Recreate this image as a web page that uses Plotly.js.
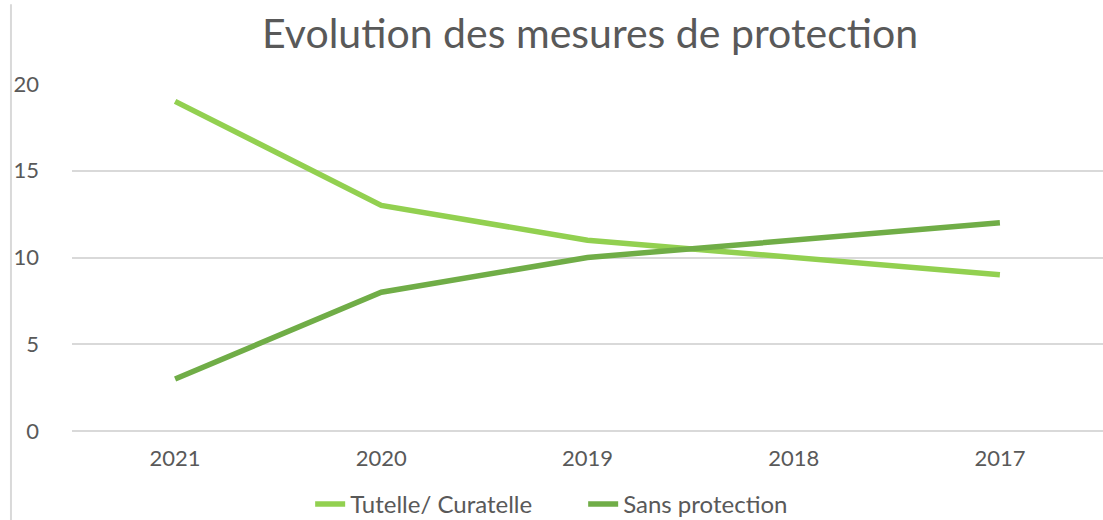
<!DOCTYPE html>
<html><head><meta charset="utf-8">
<script src="https://cdn.plot.ly/plotly-3.0.1.min.js"></script>
<style>html,body{margin:0;padding:0;background:#fff}</style>
</head><body>
<div id="chart" style="width:1103px;height:520px"></div>
<script>
const years = ["2021", "2020", "2019", "2018", "2017"];
const tutelle = [19, 13, 11, 10, 9];
const sansProtection = [3, 8, 10, 11, 12];
const yTicks = [0, 5, 10, 15, 20];

const font = "Lato, 'Open Sans', sans-serif";
const data = [
  {x: years, y: tutelle, name: "Tutelle/ Curatelle", type: "scatter", mode: "lines",
   line: {color: "#92D050", width: 5.5}},
  {x: years, y: sansProtection, name: "Sans protection", type: "scatter", mode: "lines",
   line: {color: "#70AD47", width: 5.5}}
];
const layout = {
  width: 1103, height: 520,
  margin: {l: 72, r: 0, t: 84, b: 89},
  paper_bgcolor: "#fff", plot_bgcolor: "#fff",
  title: {text: "Evolution des mesures de protection", font: {family: font, size: 41, color: "#595959"},
          x: 0.535, xanchor: "center", y: 0.935, yanchor: "middle"},
  font: {family: font, color: "#595959", size: 22},
  xaxis: {type: "category", range: [-0.5, 4.5], showgrid: false, zeroline: false, showline: false,
          ticks: "", tickfont: {size: 22, color: "#595959"}, ticklabelstandoff: 12},
  yaxis: {range: [0, 20], tickvals: yTicks, showgrid: true, gridcolor: "#d9d9d9", gridwidth: 2,
          zeroline: true, zerolinecolor: "#d9d9d9", zerolinewidth: 2, showline: false, ticks: "",
          tickfont: {size: 22, color: "#595959"}, ticklabelstandoff: 32},
  showlegend: true,
  legend: {orientation: "h", x: 0.231, xanchor: "left", yref: "container", y: 0.03, yanchor: "middle",
           font: {size: 24, color: "#595959"}, itemwidth: 30, tracegroupgap: 0,
           entrywidth: 228, entrywidthmode: "pixels"},
  shapes: [{type: "line", xref: "paper", yref: "paper", x0: -0.0592, x1: -0.0592, y0: 1.23, y1: -0.26,
            line: {color: "#d9d9d9", width: 2}}]
};
Plotly.newPlot("chart", data, layout, {displayModeBar: false, staticPlot: true});
</script>
</body></html>
